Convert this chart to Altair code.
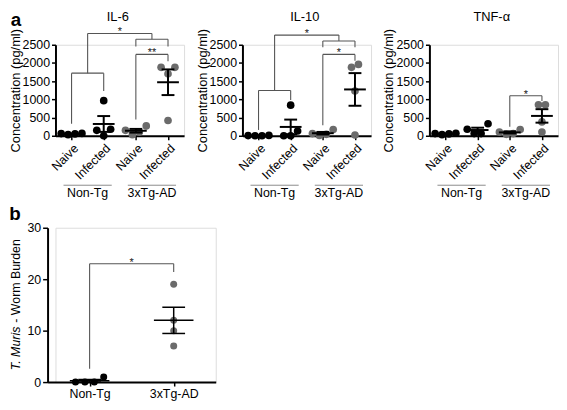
import json
import altair as alt
import pandas as pd

FONT = "Liberation Sans"

# ---------------- data ----------------
cytokines = ["IL-6", "IL-10", "TNF-α"]
strains = ["Non-Tg", "3xTg-AD"]
conditions = ["Naive", "Infected"]

il6_nontg_naive = [30, 60, 50, 65]
il6_nontg_infected = [965, 150, 180, 0]
il6_3xtg_naive = [270, 150, 100, 30]
il6_3xtg_infected = [1880, 1700, 1880, 420]

il10_nontg_naive = [0, 10, 5, 0]
il10_nontg_infected = [840, 130, 0, 0]
il10_3xtg_naive = [170, 60, 40, 10]
il10_3xtg_infected = [1880, 1230, 1960, 20]

tnf_nontg_naive = [60, 30, 50, 70]
tnf_nontg_infected = [330, 180, 60, 60]
tnf_3xtg_naive = [170, 100, 60, 40]
tnf_3xtg_infected = [850, 380, 850, 100]

worm_nontg = [0, 0, 0, 1]
worm_3xtg = [19, 12, 10, 7]

conc_ticks = [0, 500, 1000, 1500, 2000, 2500]
worm_ticks = [0, 10, 20, 30]

# significance brackets: (left x, right x, bar level, left leg end, right leg end, label)
il6_brackets = [
    (0, 1, 1720, 330, 1230, ""),
    (2, 3, 2650, 2450, 2450, ""),
    (0.5, 2.5, 2810, 1720, 2650, "*"),
    (2, 3, 2235, 450, 2050, "**"),
]
il10_brackets = [
    (0, 1, 1245, 160, 980, ""),
    (2, 3, 2605, 2430, 2430, ""),
    (0.5, 2.5, 2765, 1245, 2605, "*"),
    (2, 3, 2235, 290, 2060, "*"),
]
tnf_brackets = [
    (2, 3, 1100, 245, 955, "*"),
]
worm_brackets = [
    (0, 1, 23, 2.6, 21.4, "*"),
]

top_series = {
    "IL-6": [il6_nontg_naive, il6_nontg_infected, il6_3xtg_naive, il6_3xtg_infected],
    "IL-10": [il10_nontg_naive, il10_nontg_infected, il10_3xtg_naive, il10_3xtg_infected],
    "TNF-α": [tnf_nontg_naive, tnf_nontg_infected, tnf_3xtg_naive, tnf_3xtg_infected],
}
top_brackets = {"IL-6": il6_brackets, "IL-10": il10_brackets, "TNF-α": tnf_brackets}

group_strain = [strains[0], strains[0], strains[1], strains[1]]
group_cond = conditions * 2

COLORS = ["#000000", "#6b6b6b"]
BR_COLOR = "#555555"
LAB_FS = 12.5
TIT_FS = 13


def spread(values, y_px, x_px, gap_px, tol_px):
    """Scatter-dot layout: points with near-equal values are placed side by side,
    filling slots from the centre outwards."""
    order = sorted(range(len(values)), key=lambda i: values[i])
    clusters = []
    for i in order:
        if clusters and (values[i] - values[clusters[-1][-1]]) * y_px < tol_px:
            clusters[-1].append(i)
        else:
            clusters.append([i])
    off = [0.0] * len(values)
    for c in clusters:
        k = len(c)
        slots = sorted([j - (k - 1) / 2 for j in range(k)], key=lambda s: (abs(s), s))
        for s, i in zip(slots, c):
            off[i] = s * gap_px / x_px
    return off


def bracket_frames(brs):
    segs, labs = [], []
    for x1, x2, lvl, l1, l2, lab in brs:
        segs.append(dict(xa=x1, xb=x2, ya=lvl, yb=lvl))
        segs.append(dict(xa=x1, xb=x1, ya=l1, yb=lvl))
        segs.append(dict(xa=x2, xb=x2, ya=l2, yb=lvl))
        if lab:
            labs.append(dict(xm=(x1 + x2) / 2, ym=lvl, lab=lab))
    return pd.DataFrame(segs), pd.DataFrame(labs)


def axis_common(**kw):
    base = dict(grid=False, domainColor="black", domainWidth=2, tickColor="black",
                tickWidth=1.5, labelColor="black", labelFontSize=LAB_FS, labelFont=FONT,
                titleFont=FONT, titleFontSize=TIT_FS, titleFontWeight="normal",
                titleColor="black", labelOverlap=False, labelFlush=False)
    base.update(kw)
    return alt.Axis(**base)


def scatter_panel(d, xs, ys, xax, yax, ytitle, brs, mean_w, cap_w, lw, dot):
    def X(f):
        return alt.X(f + ":Q", scale=xs, axis=xax, title=None)

    def Y(f):
        return alt.Y(f + ":Q", scale=ys, axis=yax, title=ytitle)

    base = alt.Chart(d)
    pts = base.mark_circle(size=dot, opacity=1, clip=False).encode(
        x=X("xj"), y=Y("value"),
        color=alt.Color("strain:N", scale=alt.Scale(domain=strains, range=COLORS), legend=None),
    )
    stats = base.transform_aggregate(
        m="mean(value)", sd="stdev(value)", n="count()", groupby=["idx"]
    ).transform_calculate(
        lo="datum.m - datum.sd / sqrt(datum.n)", hi="datum.m + datum.sd / sqrt(datum.n)"
    )
    vline = stats.mark_rule(color="black", strokeWidth=lw, clip=False).encode(
        x=X("idx"), y=Y("lo"), y2="hi:Q")
    mean_t = stats.mark_tick(orient="horizontal", size=mean_w, thickness=lw, color="black",
                             opacity=1, clip=False).encode(x=X("idx"), y=Y("m"))
    cap_lo = stats.mark_tick(orient="horizontal", size=cap_w, thickness=lw, color="black",
                             opacity=1, clip=False).encode(x=X("idx"), y=Y("lo"))
    cap_hi = stats.mark_tick(orient="horizontal", size=cap_w, thickness=lw, color="black",
                             opacity=1, clip=False).encode(x=X("idx"), y=Y("hi"))
    segs, labs = bracket_frames(brs)
    br = alt.Chart(segs).mark_rule(color=BR_COLOR, strokeWidth=1.1, clip=False).encode(
        x=X("xa"), x2="xb:Q", y=Y("ya"), y2="yb:Q")
    star = alt.Chart(labs).mark_text(font=FONT, fontSize=11, color="#222222",
                                     baseline="alphabetic", dy=2, clip=False).encode(
        x=X("xm"), y=Y("ym"), text="lab:N")
    return [pts, vline, mean_t, cap_lo, cap_hi, br, star], X, Y


# ---------------- top panels ----------------
W, H = 130, 92
XPU = W / 4.0
YPU = H / 2500.0


def top_panel(cyt, first):
    rows = []
    for gi, vals in enumerate(top_series[cyt]):
        offs = spread(vals, YPU, XPU, 7, 7)
        for v, o in zip(vals, offs):
            rows.append(dict(idx=gi, xj=gi + o, value=v, strain=group_strain[gi]))
    d = pd.DataFrame(rows)
    xs = alt.Scale(domain=[-0.5, 3.5], nice=False, zero=False)
    ys = alt.Scale(domain=[0, 2500], nice=False, zero=True)
    xax = axis_common(values=[0, 1, 2, 3], labelExpr=json.dumps(group_cond) + "[datum.value]",
                      labelAngle=-45, tickSize=4, labelPadding=2)
    yax = axis_common(values=conc_ticks, format="d", tickSize=4, labelPadding=2,
                      titlePadding=0)
    layers, X, Y = scatter_panel(d, xs, ys, xax, yax, "Concentration (pg/ml)",
                                 top_brackets[cyt], 22, 13, 2, 60)
    gdf = pd.DataFrame({"strain": strains,
                        "center": [sum(i for i, s in enumerate(group_strain) if s == st) /
                                   group_strain.count(st) for st in strains]})
    grule = alt.Chart(gdf).transform_calculate(
        lo="datum.center - 0.75", hi="datum.center + 0.75"
    ).mark_rule(color="#8c8c8c", strokeWidth=1, clip=False).encode(
        x=X("lo"), x2="hi:Q", y=alt.value(H + 50))
    gtext = alt.Chart(gdf).mark_text(font=FONT, fontSize=LAB_FS, baseline="middle").encode(
        x=X("center"), y=alt.value(H + 58), text="strain:N")
    title = alt.Chart(pd.DataFrame({"t": [cyt]})).mark_text(
        font=FONT, fontSize=TIT_FS, baseline="middle").encode(
        text="t:N", x=alt.value(W / 2 - 2), y=alt.value(-28))
    layers += [grule, gtext, title]
    if first:
        a = alt.Chart(pd.DataFrame({"t": ["a"]})).mark_text(
            font=FONT, fontSize=19, fontWeight="bold", baseline="middle").encode(
            text="t:N", x=alt.value(-40), y=alt.value(-25))
        layers.append(a)
    return alt.layer(*layers).properties(width=W, height=H)


p1 = top_panel("IL-6", True)
p2 = top_panel("IL-10", False)
p3 = top_panel("TNF-α", False)

# ---------------- panel b ----------------
# panel b's y axis sits 8px left of panel a's y axis
B_SHIFT = 8
WB, HB = 162, 156
bx_pu = (WB + B_SHIFT) / 2.0
by_pu = HB / 30.0
brows = []
for gi, vals in enumerate([worm_nontg, worm_3xtg]):
    offs = spread(vals, by_pu, bx_pu, 9.5, 6)
    for v, o in zip(vals, offs):
        brows.append(dict(idx=gi, xj=gi + o, value=v, strain=strains[gi]))
bd = pd.DataFrame(brows)
bxs = alt.Scale(domain=[-0.5, 1.5], nice=False, zero=False, range=[-B_SHIFT, WB])
bys = alt.Scale(domain=[0, 30], nice=False, zero=True)
bxax = axis_common(values=[0, 1], labelExpr=json.dumps(strains) + "[datum.value]",
                   labelAngle=0, tickSize=4, labelPadding=2)
byax = axis_common(values=worm_ticks, format="d", tickSize=5, labelPadding=2,
                   offset=B_SHIFT)
blayers, BX, BY = scatter_panel(bd, bxs, bys, bxax, byax, None, worm_brackets,
                                40, 23, 1.5, 50)
t_italic = alt.Chart(pd.DataFrame({"t": ["T. Muris"]})).mark_text(
    font=FONT, fontSize=12.5, fontStyle="italic", angle=270, align="right",
    baseline="middle").encode(text="t:N", x=alt.value(-32 - B_SHIFT), y=alt.value(100))
t_rest = alt.Chart(pd.DataFrame({"t": ["- Worm Burden"]})).mark_text(
    font=FONT, fontSize=12.5, angle=270, align="left",
    baseline="middle").encode(text="t:N", x=alt.value(-32 - B_SHIFT), y=alt.value(96))
b_lab = alt.Chart(pd.DataFrame({"t": ["b"]})).mark_text(
    font=FONT, fontSize=19, fontWeight="bold", baseline="middle").encode(
    text="t:N", x=alt.value(-33 - B_SHIFT), y=alt.value(-14))
pb = alt.layer(*blayers, t_italic, t_rest, b_lab).properties(width=WB, height=HB)

row = alt.hconcat(p1, p2, p3, spacing=10)
chart = alt.concat(row, pb, columns=1, spacing=4).properties(
    padding=0).configure_view(stroke=None).configure(font=FONT)

chart.save("out.html", embed_options={"renderer": "svg", "actions": False})
